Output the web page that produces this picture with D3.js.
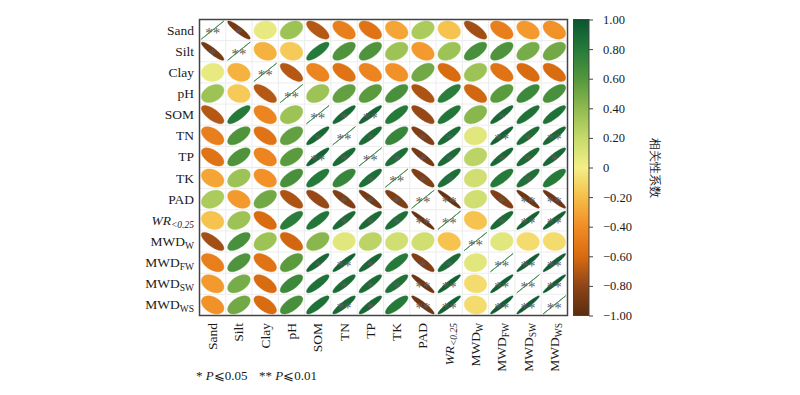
<!DOCTYPE html>
<html>
<head>
<meta charset="utf-8">
<script src="https://cdn.jsdelivr.net/npm/d3@7"></script>
<style>
  body { margin: 0; background: #fff; }
  text { font-family: "Liberation Serif", "Times New Roman", serif; }
</style>
</head>
<body>
<svg id="chart" width="800" height="395"></svg>
<script>
// variable names (main part + subscript)
const varNames = ['Sand', 'Silt', 'Clay', 'pH', 'SOM', 'TN', 'TP', 'TK', 'PAD', 'WR', 'MWD', 'MWD', 'MWD', 'MWD'];
const varSubs = ['', '', '', '', '', '', '', '', '', '<0.25', 'W', 'FW', 'SW', 'WS'];
const varItalic = ['WR'];

// lower triangle of the correlation matrix, row i holds columns 0..i-1
const corrLower = [
    [],
    [-0.90],
    [0.05, -0.25],
    [0.35, -0.15, -0.70],
    [-0.70, 0.80, -0.45, 0.35],
    [-0.48, 0.62, -0.55, 0.55, 0.90],
    [-0.55, 0.62, -0.45, 0.58, 0.92, 0.88],
    [-0.30, 0.35, -0.38, 0.65, 0.80, 0.72, 0.86],
    [0.30, -0.35, 0.50, -0.72, -0.78, -0.86, -0.90, -0.86],
    [-0.18, 0.35, -0.60, 0.78, 0.82, 0.88, 0.88, 0.86, -0.95],
    [-0.75, 0.65, 0.35, -0.62, 0.42, 0.08, 0.24, 0.15, 0.15, -0.18],
    [-0.48, 0.62, -0.55, 0.58, 0.90, 0.93, 0.90, 0.80, -0.86, 0.88, 0.08],
    [-0.35, 0.48, -0.60, 0.70, 0.85, 0.88, 0.88, 0.85, -0.93, 0.94, -0.08, 0.95],
    [-0.38, 0.50, -0.60, 0.65, 0.85, 0.90, 0.90, 0.80, -0.93, 0.94, -0.08, 0.95, 0.96]
];

// significance marks, same layout as corrLower
const sigLower = [
    [],
    ['*'],
    ['', ''],
    ['', '', ''],
    ['', '', '', ''],
    ['', '', '', '', '*'],
    ['', '', '', '', '**', '*'],
    ['', '', '', '', '', '', '*'],
    ['', '', '', '', '', '*', '*', '*'],
    ['', '', '', '', '', '*', '*', '*', '**'],
    ['', '', '', '', '', '', '', '', '', ''],
    ['', '', '', '', '*', '**', '*', '', '*', '*', ''],
    ['', '', '', '', '', '*', '*', '*', '**', '**', '', '**'],
    ['', '', '', '', '', '**', '*', '', '**', '**', '', '**', '**']
];

// colour bar
const cbStops = [-1, -0.8, -0.6, -0.4, -0.2, 0, 0.2, 0.4, 0.6, 0.8, 1];
const cbColors = ['#5a2c0e', '#8f4518', '#d96b10', '#f28c24', '#f6be48', '#f3ef88',
                  '#c6da6a', '#8fbb50', '#54973c', '#257a3a', '#0b5530'];
const cbTicks = [1, 0.8, 0.6, 0.4, 0.2, 0, -0.2, -0.4, -0.6, -0.8, -1];
const cbTitle = '相关性系数';

const svg = d3.select('#chart');
const n = varNames.length;

const x = d3.scaleBand().domain(d3.range(n)).range([199.5, 567.5]);
const y = d3.scaleBand().domain(d3.range(n)).range([19.5, 315.5]);
const color = d3.scaleLinear().domain(cbStops).range(cbColors);

// full matrix
const cells = [];
for (let i = 0; i < n; i++) {
    for (let j = 0; j < n; j++) {
        let r, s;
        if (i === j) { r = 1; s = '**'; }
        else if (i > j) { r = corrLower[i][j]; s = sigLower[i][j]; }
        else { r = corrLower[j][i]; s = sigLower[j][i]; }
        cells.push({ row: i, col: j, r: r, sig: s });
    }
}

// grid
const grid = svg.append('g');
d3.range(1, n).forEach(k => {
    grid.append('line')
        .attr('x1', x(k)).attr('x2', x(k))
        .attr('y1', y(0)).attr('y2', y(n - 1) + y.bandwidth())
        .attr('stroke', '#ececec').attr('stroke-width', 1);
    grid.append('line')
        .attr('y1', y(k)).attr('y2', y(k))
        .attr('x1', x(0)).attr('x2', x(n - 1) + x.bandwidth())
        .attr('stroke', '#ececec').attr('stroke-width', 1);
});

// ellipse outline like corrplot
function ellipsePath(r, cx, cy, sx, sy) {
    const d = Math.acos(Math.max(-1, Math.min(1, r)));
    const pts = d3.range(100).map(k => {
        const t = k / 99 * 2 * Math.PI;
        return [cx + sx * Math.cos(t + d / 2), cy - sy * Math.cos(t - d / 2)];
    });
    return d3.line()(pts) + 'Z';
}

const sx = x.bandwidth() * 0.43;
const sy = y.bandwidth() * 0.43;

svg.append('g').selectAll('path')
    .data(cells)
    .join('path')
    .attr('d', d => ellipsePath(d.r, x(d.col) + x.bandwidth() / 2, y(d.row) + y.bandwidth() / 2, sx, sy))
    .attr('fill', d => d.row === d.col ? 'none' : color(d.r))
    .attr('stroke', d => d.row === d.col ? '#3a8a4a' : color(d.r))
    .attr('stroke-width', d => d.row === d.col ? 1 : 0.4);

// significance stars
svg.append('g').selectAll('text')
    .data(cells.filter(d => d.sig))
    .join('text')
    .attr('x', d => x(d.col) + x.bandwidth() / 2)
    .attr('y', d => y(d.row) + y.bandwidth() / 2 + 8)
    .attr('text-anchor', 'middle')
    .attr('font-size', 15)
    .attr('fill', '#5c5c5c')
    .text(d => d.sig);

// frame
svg.append('rect')
    .attr('x', x(0)).attr('y', y(0))
    .attr('width', x.range()[1] - x.range()[0])
    .attr('height', y.range()[1] - y.range()[0])
    .attr('fill', 'none').attr('stroke', '#444').attr('stroke-width', 1.5);

function addLabel(sel, i) {
    sel.append('tspan')
        .attr('font-style', varItalic.includes(varNames[i]) ? 'italic' : 'normal')
        .text(varNames[i]);
    if (varSubs[i]) {
        sel.append('tspan')
            .attr('font-size', 9.5)
            .attr('dy', 3)
            .attr('font-style', varSubs[i].startsWith('<') ? 'italic' : 'normal')
            .text(varSubs[i]);
    }
}

// row labels
d3.range(n).forEach(i => {
    const t = svg.append('text')
        .attr('x', 194)
        .attr('y', y(i) + y.bandwidth() / 2 + 4.5)
        .attr('text-anchor', 'end')
        .attr('font-size', 13.5)
        .attr('fill', '#1a1a1a');
    addLabel(t, i);
});

// column labels
d3.range(n).forEach(i => {
    const cx = x(i) + x.bandwidth() / 2;
    const t = svg.append('text')
        .attr('transform', `translate(${cx + 4.5}, 323) rotate(-90)`)
        .attr('text-anchor', 'end')
        .attr('font-size', 13.5)
        .attr('fill', '#1a1a1a');
    addLabel(t, i);
});

// colour bar
const cbY = d3.scaleLinear().domain([-1, 1]).range([315.5, 19.5]);
const grad = svg.append('defs').append('linearGradient')
    .attr('id', 'cbgrad')
    .attr('x1', 0).attr('y1', 1).attr('x2', 0).attr('y2', 0);
cbStops.forEach((v, k) => {
    grad.append('stop')
        .attr('offset', (v + 1) / 2)
        .attr('stop-color', cbColors[k]);
});
svg.append('rect')
    .attr('x', 573.5).attr('y', cbY(1))
    .attr('width', 15.5).attr('height', cbY(-1) - cbY(1))
    .attr('fill', 'url(#cbgrad)')
    .attr('stroke', '#444').attr('stroke-width', 1);

const cbAxis = d3.axisRight(cbY)
    .tickValues(cbTicks)
    .tickSize(4)
    .tickPadding(10)
    .tickFormat(v => v === 0 ? '0' : d3.format('.2f')(v).replace('-', '−'));

const cbG = svg.append('g')
    .attr('transform', 'translate(589, 0)')
    .call(cbAxis);
cbG.select('.domain').remove();
cbG.selectAll('line').attr('stroke', '#444');
cbG.selectAll('text')
    .attr('font-family', '"Liberation Serif", "Times New Roman", serif')
    .attr('font-size', 12.5)
    .attr('fill', '#1a1a1a');

svg.append('text')
    .attr('transform', `translate(651, ${cbY(0)}) rotate(90)`)
    .attr('text-anchor', 'middle')
    .attr('font-family', '"Noto Sans CJK SC", sans-serif')
    .attr('font-size', 12)
    .attr('fill', '#1a1a1a')
    .text(cbTitle);

// footnote
const note = svg.append('text')
    .attr('x', 196).attr('y', 380)
    .attr('font-size', 13)
    .attr('fill', '#1a1a1a');
note.append('tspan').text('* ');
note.append('tspan').attr('font-style', 'italic').text('P');
note.append('tspan').text('⩽0.05');
note.append('tspan').attr('x', 259).text('** ');
note.append('tspan').attr('font-style', 'italic').text('P');
note.append('tspan').text('⩽0.01');
</script>
</body>
</html>
